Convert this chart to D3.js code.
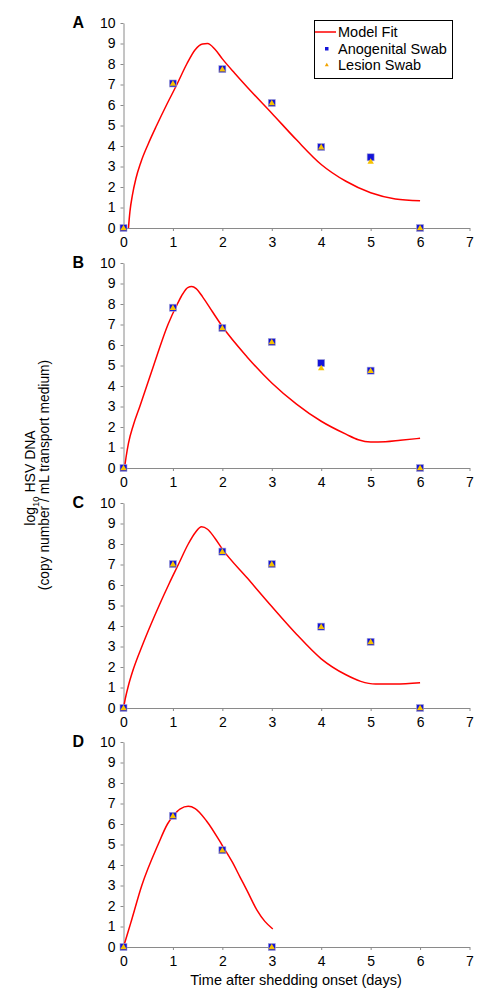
<!DOCTYPE html>
<html>
<head>
<meta charset="utf-8">
<script src="https://cdn.jsdelivr.net/npm/d3@7"></script>
<style>
  html, body { margin: 0; padding: 0; background: #fff; }
  svg { display: block; font-family: "Liberation Sans", Arial, sans-serif; }
</style>
</head>
<body>
<svg id="chart" width="496" height="1002"></svg>
<script>
// ---------- data ----------
const panelLabels = ["A", "B", "C", "D"];
const xTicks = [0, 1, 2, 3, 4, 5, 6, 7];
const yTicks = [0, 1, 2, 3, 4, 5, 6, 7, 8, 9, 10];

const daysA = [0, 1, 2, 3, 4, 5, 6];
const anogA = [0, 7.05, 7.75, 6.1, 3.95, 3.45, 0];
const lesionA = [0, 7.05, 7.75, 6.1, 3.95, 3.25, 0];
const fitA = [[0.1,0],[0.13,0.8],[0.18,1.6],[0.25,2.4],[0.35,3.2],[0.5,4.1],[0.67,5.0],[0.87,6.0],[1.08,7.0],[1.28,8.0],[1.45,8.7],[1.6,8.98],[1.7,9.0],[1.85,8.72],[2.0,8.25],[2.25,7.55],[2.5,6.88],[3.0,5.6],[3.5,4.3],[4.0,3.1],[4.5,2.28],[5.0,1.72],[5.5,1.42],[6.0,1.33]];

const daysB = [0, 1, 2, 3, 4, 5, 6];
const anogB = [0, 7.82, 6.83, 6.15, 5.12, 4.75, 0];
const lesionB = [0, 7.82, 6.83, 6.15, 4.88, 4.75, 0];
const fitB = [[0.02,0],[0.05,0.5],[0.1,1.2],[0.2,2.1],[0.33,3],[0.61,5],[0.9,7],[1.09,8],[1.2,8.5],[1.3,8.8],[1.38,8.85],[1.47,8.75],[1.6,8.35],[1.8,7.62],[2.0,6.9],[2.5,5.42],[3.0,4.15],[3.5,3.12],[4.0,2.28],[4.5,1.65],[4.75,1.38],[5.0,1.27],[5.3,1.28],[5.6,1.35],[6.0,1.45]];

const daysC = [0, 1, 2, 3, 4, 5, 6];
const anogC = [0, 7.02, 7.63, 7.02, 3.97, 3.23, 0];
const lesionC = [0, 7.02, 7.63, 7.02, 3.97, 3.23, 0];
const fitC = [[0.0,0],[0.04,0.5],[0.1,1.1],[0.2,1.9],[0.38,3.05],[0.55,4.05],[0.73,5.05],[0.92,6.05],[1.11,7.0],[1.31,8.0],[1.45,8.55],[1.58,8.84],[1.7,8.72],[1.85,8.28],[2.0,7.75],[2.5,6.35],[3.0,4.95],[3.5,3.6],[4.0,2.4],[4.5,1.62],[4.8,1.3],[5.1,1.17],[5.5,1.17],[6.0,1.23]];

const daysD = [0, 1, 2, 3];
const anogD = [0, 6.4, 4.72, 0];
const lesionD = [0, 6.4, 4.72, 0];
const fitD = [[0.0,0],[0.05,0.4],[0.15,1.2],[0.37,3],[0.7,5],[0.89,6],[1.0,6.38],[1.15,6.74],[1.31,6.86],[1.45,6.75],[1.68,6.15],[2.0,4.95],[2.2,4.15],[2.36,3.4],[2.5,2.75],[2.7,1.8],[2.86,1.25],[3.02,0.88]];

const legendItems = ["Model Fit", "Anogenital Swab", "Lesion Swab"];
const yLabelLine2 = "(copy number / mL transport medium)";
const xLabelText = "Time after shedding onset (days)";

// ---------- drawing ----------
const svg = d3.select("#chart");
const panels = [
  {days: daysA, anog: anogA, lesion: lesionA, fit: fitA},
  {days: daysB, anog: anogB, lesion: lesionB, fit: fitB},
  {days: daysC, anog: anogC, lesion: lesionC, fit: fitC},
  {days: daysD, anog: anogD, lesion: lesionD, fit: fitD}
];
const panelTops = [23, 263, 503, 742];
const plotH = 205;
const x = d3.scaleLinear().domain([0, 7]).range([123.5, 469.5]);
const axisColor = "#8a8a8a";
const squareColor = "#1414d8";
const triColor = "#f6c200";

panels.forEach((p, i) => {
  const top = panelTops[i];
  const y = d3.scaleLinear().domain([0, 10]).range([top + plotH, top]);
  const g = svg.append("g");

  const yAxis = g.append("g")
    .attr("transform", `translate(${x(0)},0)`)
    .call(d3.axisLeft(y).tickValues(yTicks).tickSize(3).tickSizeOuter(0).tickPadding(5).tickFormat(d3.format("d")));
  const xAxis = g.append("g")
    .attr("transform", `translate(0,${y(0)})`)
    .call(d3.axisBottom(x).tickValues(xTicks).tickSize(3).tickSizeOuter(0).tickPadding(6).tickFormat(d3.format("d")));
  [yAxis, xAxis].forEach(a => {
    a.select(".domain").attr("stroke", axisColor);
    a.selectAll(".tick line").attr("stroke", axisColor);
    a.selectAll(".tick text").attr("fill", "#000").style("font-size", "14px")
      .style("font-family", "'Liberation Sans', Arial, sans-serif");
  });

  g.append("text")
    .attr("x", 72.5).attr("y", top + 5)
    .style("font-size", "16px").style("font-weight", "bold").attr("fill", "#000")
    .text(panelLabels[i]);

  const line = d3.line().x(d => x(d[0])).y(d => y(d[1])).curve(d3.curveMonotoneX);
  g.append("path").datum(p.fit)
    .attr("d", line).attr("fill", "none").attr("stroke", "#ff0000").attr("stroke-width", 1.5);

  g.selectAll(".sq").data(p.days).join("rect")
    .attr("x", (d, k) => x(d) - 3.5).attr("y", (d, k) => y(p.anog[k]) - 3.5)
    .attr("width", 7).attr("height", 7)
    .attr("fill", squareColor).attr("stroke", "#a9a9d6").attr("stroke-width", 0.6);

  const tri = d3.symbol().type(d3.symbolTriangle).size(18);
  g.selectAll(".tri").data(p.days).join("path")
    .attr("d", tri)
    .attr("transform", (d, k) => `translate(${x(d)},${y(p.lesion[k]) + 0.5})`)
    .attr("fill", triColor);
});

// legend
const lg = svg.append("g");
lg.append("rect").attr("x", 314.5).attr("y", 20.5).attr("width", 138).attr("height", 58)
  .attr("fill", "#fff").attr("stroke", "#000").attr("stroke-width", 1);
const rowY = [32, 48.5, 65];
lg.append("line").attr("x1", 315).attr("x2", 336).attr("y1", rowY[0]).attr("y2", rowY[0])
  .attr("stroke", "#ff0000").attr("stroke-width", 1.5);
lg.append("rect").attr("x", 325).attr("y", rowY[1] - 1.5).attr("width", 3.5).attr("height", 3.5).attr("fill", squareColor);
lg.append("path").attr("d", d3.symbol().type(d3.symbolTriangle).size(7))
  .attr("transform", `translate(326.8,${rowY[2]})`).attr("fill", "#f2a400");
lg.selectAll(".lt").data(legendItems).join("text")
  .attr("x", 338).attr("y", (d, k) => rowY[k] + 5)
  .style("font-size", "14.5px").attr("fill", "#000").text(d => d);

// y label
const yl1 = svg.append("text").attr("transform", "translate(35,478) rotate(-90)")
  .attr("text-anchor", "middle").style("font-size", "14px").attr("fill", "#000");
yl1.append("tspan").text("log");
yl1.append("tspan").text("10").style("font-size", "9.5px").attr("dy", 4);
yl1.append("tspan").text(" HSV DNA").attr("dy", -4);
svg.append("text").attr("transform", "translate(48.5,475) rotate(-90)")
  .attr("text-anchor", "middle").style("font-size", "13.8px").attr("fill", "#000")
  .text(yLabelLine2);

// x label
svg.append("text").attr("x", 296).attr("y", 984.5).attr("text-anchor", "middle")
  .style("font-size", "14.5px").attr("fill", "#000").text(xLabelText);
</script>
</body>
</html>
